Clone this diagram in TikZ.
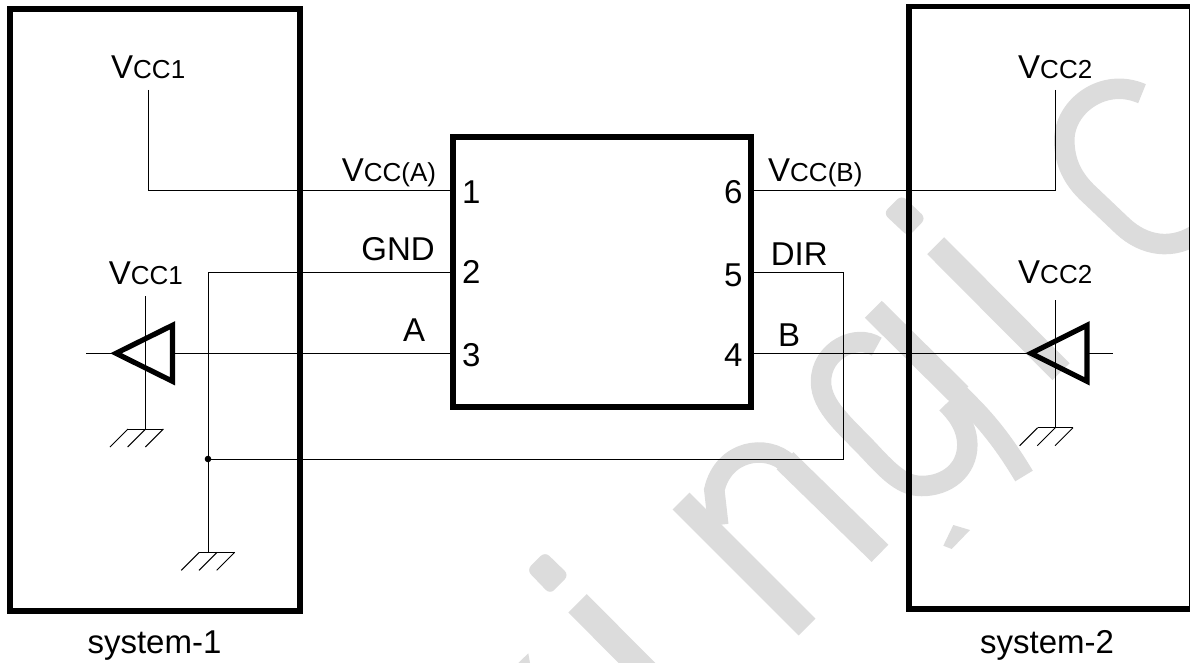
\documentclass[tikz,border=0pt]{standalone}
\usepackage{fontspec}
\setmainfont{Liberation Sans}
\definecolor{markgray}{HTML}{DCDCDC}
\tikzset{
  wire/.style={line width=1pt},
  heavy/.style={line width=5.7pt,miter limit=10},
  buffer/.style={line width=5.2pt,line join=miter},
  stamp/.style={draw=markgray,line width=24pt},
  stampcurve/.style={draw=markgray,line width=20.5pt},
  txt/.style={inner sep=0pt,anchor=base west,font=\fontsize{33}{36}\selectfont},
  pinno/.style={txt}
}
\newcommand{\smalltxt}[1]{{\fontsize{26}{27}\selectfont #1}}
\newcommand{\groundmark}[1]{
  \draw[wire] (#1) ++(-17.7,0) -- ++(35.4,0);
  \foreach \dx in {-17.7,0,17.7}
    \draw[wire] (#1) ++(\dx,0) -- ++(-18,18);
}
\begin{document}
\begin{tikzpicture}[x=1pt,y=-1pt]
  \clip (0,0) rectangle (1190,663);

  \draw[stamp] (681,501) -- (807,627);
  \draw[stamp] (880,553.3) -- (785,460.7);
  \draw[stampcurve] (788,463.7) .. controls (766.7,443.3) and (723.3,450) .. (714.3,490) -- (718.3,525);
  \draw[stamp] (873.3,309.3) -- (960,395);
  \draw[stampcurve] (955,390) -- (970,405) .. controls (996.7,431.7) and (1013.3,458.3) .. (1024,476);
  \draw[stampcurve] (876.7,346.7) .. controls (856.7,333.3) and (821,350) .. (821,381.7)
    .. controls (821,406.7) and (846.7,426.7) .. (870,451.7)
    .. controls (890,473.3) and (903.3,486) .. (921.7,486)
    .. controls (946.7,486) and (967.3,470) .. (967.3,445)
    .. controls (967.3,426.7) and (956.7,413.3) .. (946.7,403.3);
  \draw[stamp] (935.7,245.7) -- (1061,371.7);
  \draw[stamp,line width=26pt] (577.5,603.3) -- (650,676);
  \draw[stampcurve] (1142,93.7) .. controls (1103.3,76.7) and (1064.3,106.7) .. (1064.3,140)
    .. controls (1064.3,166.7) and (1076.7,183.3) .. (1091.7,196.7) -- (1123.3,226.7)
    .. controls (1143.3,245) and (1172,252) .. (1200,232);
  \fill[markgray,rounded corners=6pt] (883.3,213.3) -- (901.7,195) -- (926,218.3) -- (908.3,236.7) -- cycle;
  \fill[markgray,rounded corners=6pt] (526.7,570) -- (545,551.7) -- (569,575) -- (550,594.3) -- cycle;
  \fill[markgray] (528.3,653.3) -- (518.3,663) -- (530,663) -- cycle;
  \fill[markgray] (953.3,525) -- (970,530) -- (951.7,549) -- (943.3,545.7) -- cycle;

  \node[txt] (vcca) at (111,78.5) {V\smalltxt{CC1}};
  \node[txt] (vccb) at (108.6,284) {V\smalltxt{CC1}};
  \node[txt] (vccc) at (1018,78.5) {V\smalltxt{CC2}};
  \node[txt] (vccd) at (1018,283) {V\smalltxt{CC2}};
  \node[txt] (vccA) at (341.7,181.7) {V\smalltxt{CC(A)}};
  \node[txt] (vccB) at (768,181.7) {V\smalltxt{CC(B)}};
  \node[txt,anchor=base east] (gndlabel) at (435,260) {GND};
  \node[txt,anchor=base] (alabel) at (414,341.7) {A};
  \node[txt] (dirlabel) at (770.7,265.7) {DIR};
  \node[txt] (blabel) at (778,346.7) {B};
  \node[txt] (sysone) at (87.3,653) {system-1};
  \node[txt] (systwo) at (980,653) {system-2};
  \node[pinno] (no1) at (462,203.5) {1};
  \node[pinno] (no2) at (462,283.3) {2};
  \node[pinno] (no3) at (462,366.7) {3};
  \node[pinno] (no6) at (724,203.5) {6};
  \node[pinno] (no5) at (724,286.7) {5};
  \node[pinno] (no4) at (724,366.7) {4};

  \coordinate (pin1) at (453,190.7);
  \coordinate (pin2) at (453,272);
  \coordinate (pin3) at (453,353.3);
  \coordinate (pin6) at (751,190.7);
  \coordinate (pin5) at (751,272);
  \coordinate (pin4) at (751,353.3);
  \coordinate (topa) at (148.5,90);
  \coordinate (topb) at (145.7,296);
  \coordinate (topc) at (1055.3,90);
  \coordinate (topd) at (1055.3,300);
  \coordinate (gnda) at (145.7,429);
  \coordinate (gndb) at (217,552.3);
  \coordinate (gndc) at (208,552.3);
  \coordinate (gndd) at (1055.3,427.7);
  \coordinate (joint) at (208,459);
  \coordinate (turn) at (843,459);
  \coordinate (bufatip) at (116,353.3);
  \coordinate (bufaback) at (172.5,353.3);
  \coordinate (bufain) at (86,353.3);
  \coordinate (bufbtip) at (1031,353.3);
  \coordinate (bufbback) at (1087,353.3);
  \coordinate (bufbin) at (1112.7,353.3);

  \draw[wire] (topa) |- (pin1);
  \draw[wire] (topc) |- (pin6);
  \draw[wire] (pin2) -| (gndc);
  \draw[wire] (pin5) -| (turn) -- (joint);
  \draw[wire] (topb) -- (gnda);
  \draw[wire] (topd) -- (gndd);
  \draw[wire] (bufain) -- (bufatip);
  \draw[wire] (bufaback) -- (pin3);
  \draw[wire] (pin4) -- (bufbtip);
  \draw[wire] (bufbback) -- (bufbin);
  \groundmark{gnda}
  \groundmark{gndb}
  \groundmark{gndd}
  \fill (joint) circle (3.3pt);

  \draw[buffer] (bufatip) -- ++(56.5,-28) -- ++(0,56) -- cycle;
  \draw[buffer] (bufbtip) -- ++(56,-28) -- ++(0,56) -- cycle;

  \draw[heavy] (10,9) rectangle (300,611);
  \draw[heavy] (909,6.5) rectangle (1191.5,608.7);
  \draw[heavy] (453,136.8) rectangle (751.2,407.2);
\end{tikzpicture}
\end{document}
